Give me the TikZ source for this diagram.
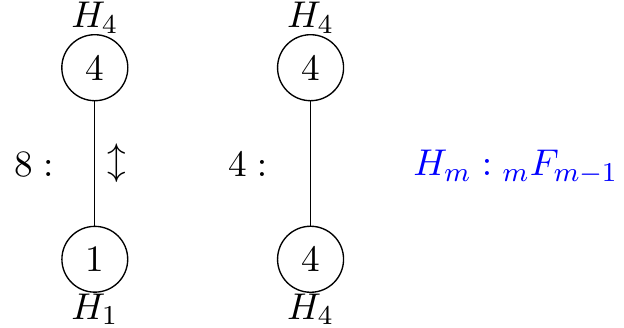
\documentclass[tikz,border=0pt,11pt]{standalone}
\usepackage{amsmath}
\usepackage{xcolor}
\usetikzlibrary{arrows,positioning}

\begin{document}
\begin{tikzpicture}[vtx/.style={draw,circle},
  label distance=-3.6pt]
\useasboundingbox (0,0) rectangle (6.45,3.39);
%first orbit
\node [vtx,label=above:$H_4$] (a4) at (0.98,2.69) {4};
\node [vtx,label=below:$H_1$] (a1) at (0.98,0.71) {1};
\draw (a4) -- (a1) node [midway,right] {$\updownarrow$};
\node (ka) at (0.35,1.69) {$8:$};

%second orbit
\node [vtx,label=above:$H_4$] (b4) at (3.21,2.69) {4};
\node [vtx,label=below:$H_4$] (c4) at (3.21,0.71) {4};
\draw (b4) -- (c4);
\node (kb) at (2.56,1.69) {$4:$};

%legend
\node [blue] (lg) at (5.33,1.66) {$H_m: {}_mF_{m-1}$};
\end{tikzpicture}
\end{document}
